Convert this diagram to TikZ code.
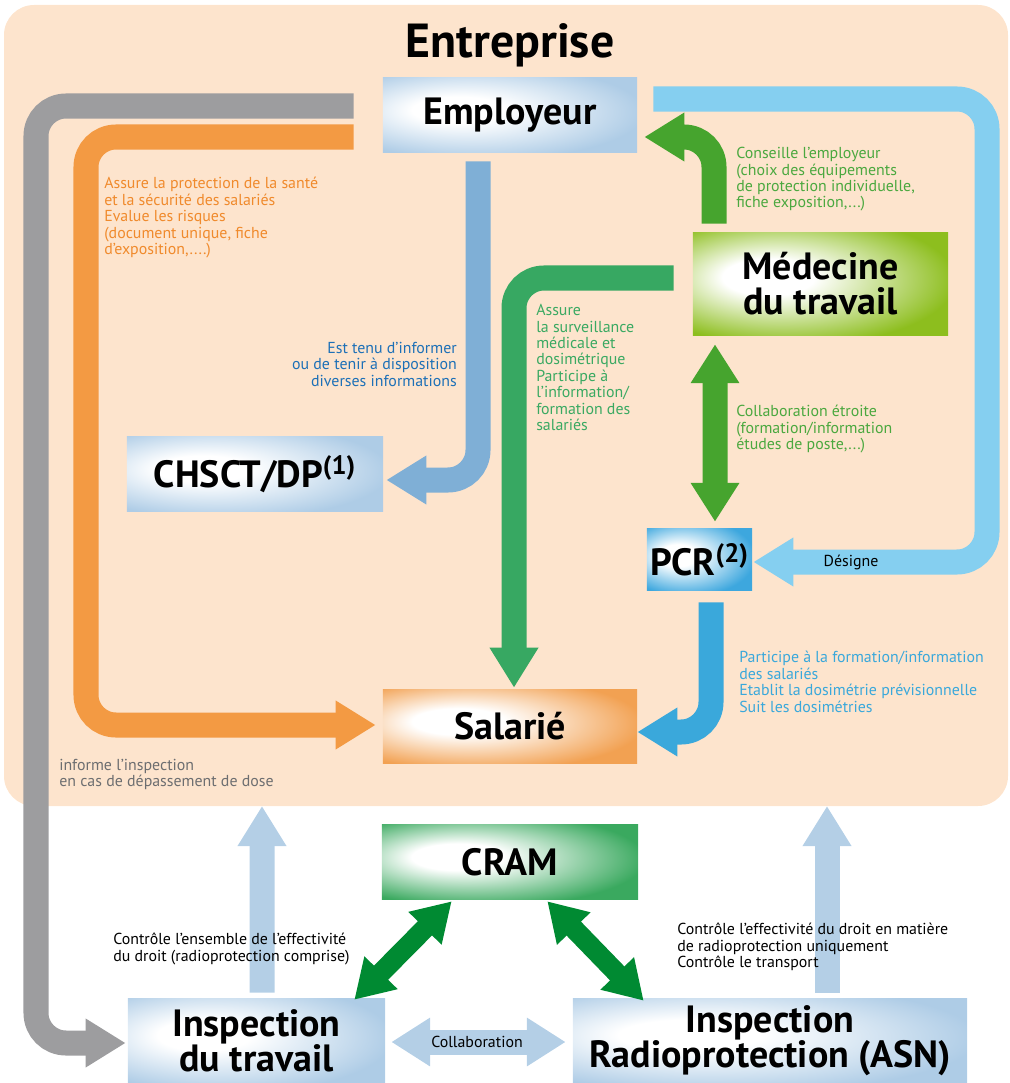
\documentclass[tikz,border=0pt]{standalone}
\usepackage{fontspec}
\setmainfont{PT Sans}
\usetikzlibrary{arrows.meta}
\usetikzlibrary{calc}
\usetikzlibrary{positioning}

\definecolor{peach}{HTML}{FDE4CD}
\definecolor{bandgray}{HTML}{9D9D9F}
\definecolor{bandorange}{HTML}{F39A43}
\definecolor{bandsteel}{HTML}{7FAFD6}
\definecolor{bandsky}{HTML}{85CFF0}
\definecolor{bandlime}{HTML}{46A42E}
\definecolor{bandgreen}{HTML}{37A862}
\definecolor{bandpcr}{HTML}{3AA8DB}
\definecolor{bandpale}{HTML}{B4CFE6}
\definecolor{banddark}{HTML}{008A32}
\definecolor{txtorange}{HTML}{F08A2C}
\definecolor{txtsteel}{HTML}{1D70B7}
\definecolor{txtlime}{HTML}{4BA83F}
\definecolor{txtgreen}{HTML}{3AA962}
\definecolor{txtgray}{HTML}{6D6E70}
\definecolor{boxblue}{HTML}{AECCE6}
\definecolor{boxlime}{HTML}{8DBE1E}
\definecolor{boxpcr}{HTML}{3DA7DE}
\definecolor{boxorange}{HTML}{F2A152}
\definecolor{boxgreen}{HTML}{3AA95F}
\colorlet{boxc}{boxblue}

% white glow, a bit left of the middle of each box
\pgfdeclareradialshading[boxc]{glow}{\pgfpoint{-12bp}{4bp}}{color(0bp)=(white); color(9bp)=(white); color(32bp)=(boxc); color(60bp)=(boxc)}

\tikzset{
  box/.style={shade,shading=glow,inner sep=0pt,align=center,font=\fontsize{27}{25}\selectfont\bfseries},
  boxcol/.code={\colorlet{boxc}{#1}},
  band/.style={line width=0.625cm,rounded corners=0.75cm},
  thin band/.style={line width=0.5cm},
  tip/.style={-{Triangle[length=1cm,width=1.15cm]}},
  tips/.style={{Triangle[length=0.97cm,width=1.15cm]}-{Triangle[length=0.97cm,width=1.15cm]}},
  smalltips/.style={{Triangle[length=0.95cm,width=1.1cm]}-{Triangle[length=0.95cm,width=1.1cm]}},
  lbl/.style={inner sep=0pt,align=left,font=\fontsize{11.3}{11.7}\selectfont},
}

\begin{document}
\begin{tikzpicture}[x=0.025cm,y=-0.025cm]
\useasboundingbox (0,0) rectangle (1010,1083);

\fill[peach,rounded corners=0.75cm] (4,5) rectangle (1008,806);
\node[anchor=base,font=\fontsize{34}{34}\selectfont\bfseries] (titre) at (510,58) {Entreprise};

% boxes
\node[box,boxcol=boxblue,minimum width=6.35cm,minimum height=1.85cm] (employeur) at (510,115) {Employeur};
\node[box,boxcol=boxlime,minimum width=6.375cm,minimum height=2.55cm] (medecine) at (820.5,284) {Médecine\\du travail};
\node[box,boxcol=boxblue,minimum width=6.4cm,minimum height=1.85cm] (chsct) at (255,474) {CHSCT/DP\textsuperscript{(1)}};
\node[box,boxcol=boxpcr,minimum width=2.625cm,minimum height=1.525cm] (pcr) at (699.5,559.5) {PCR\textsuperscript{(2)}};
\node[box,boxcol=boxorange,minimum width=6.35cm,minimum height=1.825cm] (salarie) at (510,726.5) {Salarié};
\node[box,boxcol=boxgreen,minimum width=6.4cm,minimum height=1.85cm] (cram) at (510,862) {CRAM};
\node[box,boxcol=boxblue,minimum width=6.425cm,minimum height=2.15cm] (travail) at (256.5,1041) {Inspection\\du travail};
\node[box,boxcol=boxblue,minimum width=9.85cm,minimum height=2.15cm] (asn) at (770,1041) {Inspection\\Radioprotection (ASN)};

\coordinate (edgeL) at (262,806);
\coordinate (edgeR) at (827,806);

% arrows inside the company
\draw[band,bandgray,tip] ($(employeur.west)+(-29,-9)$) -- (36,106) -- (36,1043) -- ($(travail.west)+(-2,2)$);
\draw[band,bandorange,tip] ($(employeur.west)+(-29,22)$) -- (86,137) -- (86,725) -- ($(salarie.west)+(-7,-1.5)$);
\draw[band,bandsteel,tip] ($(employeur.south)+(-32,9)$) -- (478,480) -- ($(chsct.east)+(3,6)$);
\draw[band,bandsky,tip] ($(employeur.east)+(16,-16)$) -- (987,99) -- (987,562) -- ($(pcr.east)+(1,2.5)$);
\draw[band,bandlime,tip] ($(medecine.north)+(-106.5,-9)$) -- (714,137) -- ($(employeur.east)+(7,22)$);
\draw[band,bandgreen,tip] ($(medecine.west)+(-19,-6)$) -- (514,278) -- ($(salarie.north)+(4,-2)$);
\draw[band,bandlime,tips] ($(medecine.south)+(-105.5,9)$) -- ($(pcr.north)+(15.5,-7)$);
\draw[band,bandpcr,tip] ($(pcr.south)+(11.5,12)$) -- (711,732) -- ($(salarie.east)+(0,5.5)$);

% arrows between the inspections
\draw[band,bandpale,tip] ($(travail.north)+(5.5,-5)$) -- (edgeL);
\draw[band,bandpale,tip] ($(asn.north)+(57,-5)$) -- (edgeR);
\draw[band,bandpale,tips] ($(travail.east)+(6,1)$) -- ($(asn.west)+(-7,1)$);
\draw[thin band,banddark,smalltips] ($(cram.south west)+(70,2)$) -- ($(travail.north east)+(-31,2)$);
\draw[thin band,banddark,smalltips] ($(cram.south east)+(-91,2)$) -- ($(asn.north west)+(71,3)$);

% texts
\node[lbl,txtorange,anchor=north west] (protection) at (104,177) {Assure la protection de la santé\\et la sécurité des salariés\\Evalue les risques\\(document unique, fiche\\d’exposition,....)};
\node[lbl,txtsteel,anchor=north east,align=right] (informer) at (457,342) {Est tenu d’informer\\ou de tenir à disposition\\diverses informations};
\node[lbl,txtlime,anchor=north west] (conseille) at (736,147) {Conseille l’employeur\\(choix des équipements\\de protection individuelle,\\fiche exposition,...)};
\node[lbl,txtgreen,anchor=north west] (surveillance) at (536,304) {Assure\\la surveillance\\médicale et\\dosimétrique\\Participe à\\l’information/\\formation des\\salariés};
\node[lbl,txtlime,anchor=north west] (etroite) at (736,405) {Collaboration étroite\\(formation/information\\études de poste,...)};
\node[lbl,anchor=base] (designe) at (851,566) {Désigne};
\node[lbl,bandpcr,anchor=north west] (dosimetrie) at (739,651) {Participe à la formation/information\\des salariés\\Etablit la dosimétrie prévisionnelle\\Suit les dosimétries};
\node[lbl,txtgray,anchor=north west] (depassement) at (59,759) {informe l’inspection\\en cas de dépassement de dose};
\node[lbl,anchor=north west] (ensemble) at (113,933) {Contrôle l’ensemble de l’effectivité\\du droit (radioprotection comprise)};
\node[lbl,anchor=north west] (matiere) at (677,923) {Contrôle l’effectivité du droit en matière\\de radioprotection uniquement\\Contrôle le transport};
\node[lbl] (collab) at (477,1042) {Collaboration};
\end{tikzpicture}
\end{document}
